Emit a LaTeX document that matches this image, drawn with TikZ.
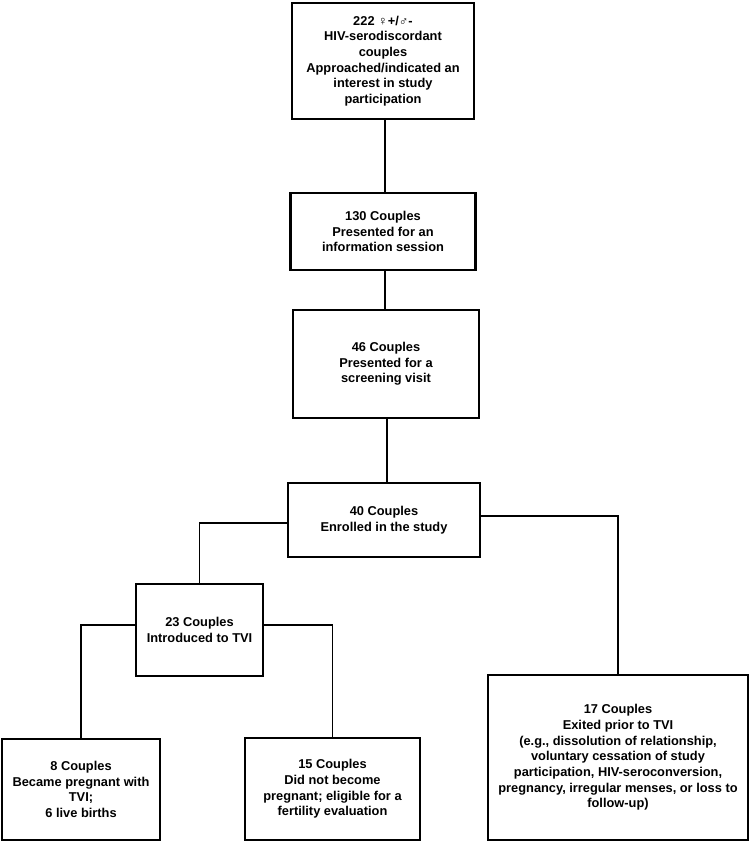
\documentclass[tikz,border=0pt]{standalone}
\usepackage{fontspec}
\setmainfont{Liberation Sans}
\usetikzlibrary{positioning}

\begin{document}
\begin{tikzpicture}[
    x=0.02cm, y=-0.02cm,
    box/.style={
        draw,
        line width=1.6pt,
        align=center,
        inner sep=2pt,
        font=\fontsize{7.3}{8.9}\selectfont\bfseries
    },
    trunk/.style={
        line width=1.4pt
    },
    branch/.style={
        line width=0.9pt
    }
]

\useasboundingbox (0,0) rectangle (750,844);

\node[box, minimum width=3.64cm, minimum height=2.32cm] (approached) at (383,61)
{222 ♀+/♂-\\
HIV-serodiscordant\\
couples\\
Approached/indicated an\\
interest in study\\
participation};

\node[box, minimum width=3.7cm, minimum height=1.54cm] (info) at (383,231.5)
{130 Couples\\
Presented for an\\
information session};

\node[box, minimum width=3.72cm, minimum height=2.16cm] (screening) at (386,364)
{46 Couples\\
Presented for a\\
screening visit};

\node[box, minimum width=3.84cm, minimum height=1.48cm] (enrolled) at (384,520)
{40 Couples\\
Enrolled in the study};

\node[box, minimum width=2.54cm, minimum height=1.84cm] (tvi) at (199.5,630)
{23 Couples\\
Introduced to TVI};

\node[box, minimum width=3.16cm, minimum height=2.02cm] (pregnant) at (81,789.5)
{8 Couples\\
Became pregnant with\\
TVI;\\
6 live births};

\node[box, minimum width=3.5cm, minimum height=2.04cm] (notpregnant) at (332.5,789)
{15 Couples\\
Did not become\\
pregnant; eligible for a\\
fertility evaluation};

\node[box, minimum width=5.2cm, minimum height=3.3cm] (exited) at (618,757.5)
{17 Couples\\
Exited prior to TVI\\
(e.g., dissolution of relationship,\\
voluntary cessation of study\\
participation, HIV-seroconversion,\\
pregnancy, irregular menses, or loss to\\
follow-up)};

\draw[trunk] (approached.south -| 385,0) -- (info.north -| 385,0);
\draw[trunk] (info.south -| 385,0) -- (screening.north -| 385,0);
\draw[trunk] (screening.south -| 387,0) -- (enrolled.north -| 387,0);

\draw[branch] ([yshift=-0.06cm]enrolled.west) -| (tvi.north);
\draw[branch] ([yshift=0.08cm]enrolled.east) -| (exited.north);
\draw[branch] ([yshift=0.1cm]tvi.west) -| (pregnant.north);
\draw[branch] ([yshift=0.1cm]tvi.east) -| (notpregnant.north);

\end{tikzpicture}
\end{document}
